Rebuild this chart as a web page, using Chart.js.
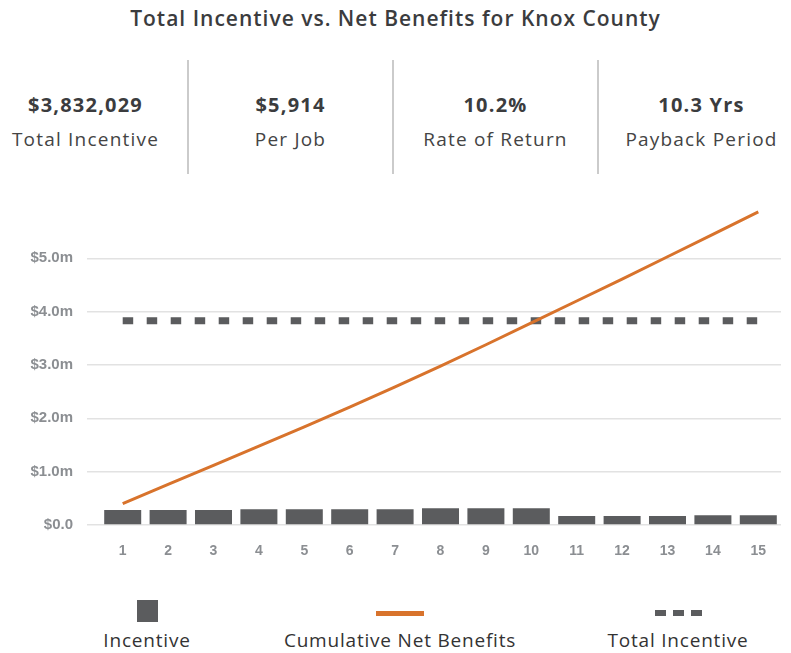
<!DOCTYPE html>
<html>
<head>
<meta charset="utf-8">
<title>Total Incentive vs. Net Benefits for Knox County</title>
<script src="https://cdn.jsdelivr.net/npm/chart.js@4.4.1/dist/chart.umd.min.js"></script>
<style>
  body { margin: 0; width: 791px; height: 653px; background: #fff; position: relative; overflow: hidden;
         font-family: "Open Sans", sans-serif; color: #3b3c3e; }
  #title { position: absolute; top: 3px; left: 0; width: 791px; text-align: center;
           font-size: 21px; font-weight: 600; letter-spacing: 1px; line-height: 30px; }
  #kpis { position: absolute; top: 60px; left: -16px; display: flex; }
  .kpi { width: 205px; height: 114px; box-sizing: border-box; border-right: 2px solid #cbcbcb; text-align: center; }
  .kpi:last-child { border-right: none; }
  .kpi .val { margin-top: 32px; font-size: 20px; font-weight: 700; line-height: 26px; letter-spacing: 1.2px; }
  .kpi .lbl { margin-top: 9px; font-size: 19px; line-height: 24px; color: #444; letter-spacing: 1.2px; }
  #chartBox { position: absolute; left: 0; top: 180px; width: 791px; height: 400px; }
  .leg { position: absolute; top: 598px; width: 300px; height: 55px; }
  .leg .sw { position: absolute; left: 50%; }
  .leg .txt { position: absolute; top: 30px; width: 100%; text-align: center; font-size: 19px; line-height: 24px;
              color: #333; letter-spacing: 0.8px; }
</style>
</head>
<body>
<div id="title">Total Incentive vs. Net Benefits for Knox County</div>
<div id="kpis"></div>
<div id="chartBox"><canvas id="chart"></canvas></div>
<div id="legend"></div>
<script>
// yearly figures
const years = ['1', '2', '3', '4', '5', '6', '7', '8', '9', '10', '11', '12', '13', '14', '15'];
const incentive = [282000, 282000, 282000, 295000, 295000, 295000, 295000, 313000, 313000, 313000,
                   168000, 168000, 168000, 182000, 182000];
const cumulativeNetBenefits = [400000, 760000, 1120000, 1480000, 1840000, 2210000, 2590000, 2980000,
                               3380000, 3790000, 4200000, 4610000, 5030000, 5450000, 5870000];
const totalIncentive = 3832029;

// summary figures
const kpiValues = ['$' + totalIncentive.toLocaleString('en-US'), '$5,914', '10.2%', '10.3 Yrs'];
const kpiLabels = ['Total Incentive', 'Per Job', 'Rate of Return', 'Payback Period'];

const GRAY = '#5b5c5e';
const ORANGE = '#d8732c';

const kpis = document.getElementById('kpis');
kpiValues.forEach((v, i) => {
  const box = document.createElement('div');
  box.className = 'kpi';
  box.innerHTML = '<div class="val">' + v + '</div><div class="lbl">' + kpiLabels[i] + '</div>';
  kpis.appendChild(box);
});

function money(v) {
  if (v === 0) return '$0.0';
  return '$' + (v / 1e6).toFixed(1) + 'm';
}

const chart = new Chart(document.getElementById('chart'), {
  type: 'bar',
  data: {
    labels: years,
    datasets: [
      {
        type: 'line',
        label: 'Cumulative Net Benefits',
        data: cumulativeNetBenefits,
        borderColor: ORANGE,
        borderWidth: 3,
        pointRadius: 0,
        tension: 0,
        order: 1
      },
      {
        type: 'line',
        label: 'Total Incentive',
        data: years.map(() => totalIncentive),
        borderColor: GRAY,
        borderWidth: 7,
        borderDash: [10.5, 13.5],
        borderCapStyle: 'butt',
        pointRadius: 0,
        order: 2
      },
      {
        label: 'Incentive',
        data: incentive,
        backgroundColor: GRAY,
        barPercentage: 0.815,
        categoryPercentage: 1,
        order: 3
      }
    ]
  },
  options: {
    responsive: true,
    maintainAspectRatio: false,
    animation: false,
    layout: { padding: { top: 25, right: 10, bottom: 15, left: 0 } },
    plugins: { legend: { display: false }, tooltip: { enabled: false } },
    scales: {
      x: {
        grid: { display: false, drawTicks: false },
        border: { display: false },
        ticks: { color: '#8b8e92', font: { family: 'Liberation Sans', size: 14, weight: 'bold' }, padding: 18 },
        afterFit: s => { s.height = 40; }
      },
      y: {
        min: 0,
        max: 6000000,
        ticks: {
          stepSize: 1000000,
          color: '#8b8e92',
          padding: 14,
          font: { family: 'Liberation Sans', size: 15, weight: 'bold' },
          callback: v => (v >= 6000000 ? '' : money(v))
        },
        grid: {
          color: c => (c.tick && c.tick.value >= 6000000 ? 'rgba(0,0,0,0)' : '#e2e2e2'),
          lineWidth: 1.5,
          tickLength: 13
        },
        border: { display: false },
        afterFit: s => { s.width = 100; }
      }
    }
  }
});

// legend below the chart, built from the datasets
const legendItems = [
  { label: chart.data.datasets[2].label, kind: 'box', color: GRAY, center: 147 },
  { label: chart.data.datasets[0].label, kind: 'line', color: ORANGE, center: 400 },
  { label: chart.data.datasets[1].label, kind: 'dash', color: GRAY, center: 678 }
];
const legend = document.getElementById('legend');
legendItems.forEach(item => {
  const el = document.createElement('div');
  el.className = 'leg';
  el.style.left = (item.center - 150) + 'px';
  let sw = '';
  if (item.kind === 'box') {
    sw = '<div class="sw" style="top:2px;margin-left:-10px;width:21px;height:22px;background:' + item.color + '"></div>';
  } else if (item.kind === 'line') {
    sw = '<div class="sw" style="top:13px;margin-left:-24px;width:48px;height:5px;background:' + item.color + '"></div>';
  } else {
    for (let k = 0; k < 3; k++) {
      sw += '<div class="sw" style="top:12px;margin-left:' + (-23 + k * 18) + 'px;width:11px;height:6px;background:' + item.color + '"></div>';
    }
  }
  el.innerHTML = sw + '<div class="txt">' + item.label + '</div>';
  legend.appendChild(el);
});
</script>
</body>
</html>
